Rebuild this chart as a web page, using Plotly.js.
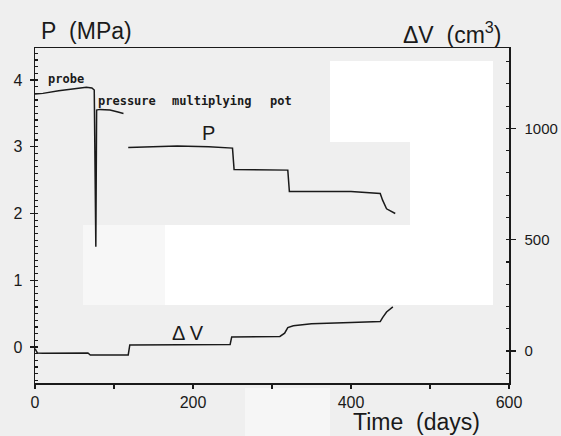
<!DOCTYPE html>
<html>
<head>
<meta charset="utf-8">
<script src="https://cdn.plot.ly/plotly-3.0.1.min.js"></script>
<style>
html,body{margin:0;padding:0;background:#efefef;}
#chart{width:561px;height:436px;}
</style>
</head>
<body>
<div id="chart"></div>
<script>
// Pressure P (MPa), left axis
const pTime = [0, 10, 30, 50, 65, 72, 75, 77, 78, 82, 95, 105, 112, null, 118, 150, 180, 220, 250, 252, 280, 320, 322, 360, 400, 437, 440, 445, 452, 456];
const pValue = [3.79, 3.80, 3.84, 3.87, 3.89, 3.88, 3.85, 1.50, 3.55, 3.56, 3.55, 3.52, 3.50, null, 2.99, 3.00, 3.01, 3.00, 2.98, 2.66, 2.66, 2.65, 2.33, 2.33, 2.33, 2.30, 2.20, 2.07, 2.03, 2.00];

// Volume change ΔV (cm³), right axis
const vTime = [0, 3, 10, 40, 67, 70, 118, 120, 200, 247, 249, 280, 310, 316, 320, 327, 350, 400, 437, 440, 445, 453];
const vValue = [10, -9, -10, -9, -9, -18, -18, 27, 28, 29, 63, 64, 65, 80, 105, 113, 122, 128, 132, 150, 175, 198];

// Tick labels
const xTicks = [0, 200, 400, 600];
const yTicks = [0, 1, 2, 3, 4];
const y2Ticks = [0, 500, 1000];

const ink = '#1a1a1a';
const sans = 'Liberation Sans, Arial, sans-serif';
const mono = 'DejaVu Sans Mono, monospace';

const traces = [
  {x: pTime, y: pValue, type: 'scatter', mode: 'lines', yaxis: 'y',
   line: {color: ink, width: 1.5}, connectgaps: false, hoverinfo: 'skip'},
  {x: vTime, y: vValue, type: 'scatter', mode: 'lines', yaxis: 'y2',
   line: {color: ink, width: 1.5}, hoverinfo: 'skip'}
];

function px2paper(x0, y0, x1, y1, color) {
  return {type: 'rect', xref: 'paper', yref: 'paper', layer: 'below',
    x0: (x0 - 35) / 474, x1: (x1 - 35) / 474,
    y0: (383 - y0) / 335, y1: (383 - y1) / 335,
    fillcolor: color, line: {width: 0}};
}

const layout = {
  width: 561, height: 436,
  margin: {l: 35, r: 52, t: 48, b: 53},
  paper_bgcolor: '#efefef',
  plot_bgcolor: 'rgba(0,0,0,0)',
  showlegend: false,
  font: {family: sans, color: ink},
  xaxis: {
    range: [0, 600], tickvals: xTicks, ticktext: xTicks.map(String),
    showline: true, linecolor: ink, linewidth: 1.5, mirror: true,
    ticks: 'outside', ticklen: 4, tickcolor: ink, tickwidth: 1.2,
    minor: {dtick: 100, ticks: 'outside', ticklen: 4, tickcolor: ink},
    showgrid: false, zeroline: false,
    tickfont: {size: 16, family: sans, color: ink}
  },
  yaxis: {
    range: [-0.54, 4.48], tickvals: yTicks, ticktext: yTicks.map(String),
    showline: true, linecolor: ink, linewidth: 1.5,
    ticks: 'outside', ticklen: 4, tickcolor: ink, tickwidth: 1.2,
    minor: {dtick: 0.1, ticks: 'inside', ticklen: 3, tickcolor: ink},
    showgrid: false, zeroline: false, ticklabelstandoff: 4,
    tickfont: {size: 16, family: sans, color: ink}
  },
  yaxis2: {
    overlaying: 'y', side: 'right',
    range: [-144, 1361], tickvals: y2Ticks, ticktext: y2Ticks.map(String),
    showline: true, linecolor: ink, linewidth: 1.5,
    ticks: 'outside', ticklen: 5, tickcolor: ink, tickwidth: 1.2,
    minor: {dtick: 100, ticks: 'inside', ticklen: 3, tickcolor: ink},
    showgrid: false, zeroline: false, ticklabelstandoff: 6,
    tickfont: {size: 15, family: sans, color: ink}
  },
  shapes: [
    px2paper(330, 61, 493, 142, '#ffffff'),
    px2paper(410, 142, 493, 305, '#ffffff'),
    px2paper(165, 225, 410, 305, '#ffffff'),
    px2paper(83, 225, 165, 305, '#f7f7f7'),
    px2paper(245, 388, 330, 436, '#f6f6f6')
  ],
  annotations: [
    {text: 'P\u00a0\u00a0(MPa)', xref: 'paper', yref: 'paper', x: 0.1076, y: 1.0507,
     xanchor: 'center', yanchor: 'middle', showarrow: false, font: {size: 23, family: sans, color: ink}},
    {text: 'ΔV\u00a0\u00a0(cm<sup>3</sup>)', xref: 'paper', yref: 'paper', x: 0.880, y: 1.045,
     xanchor: 'center', yanchor: 'middle', showarrow: false, font: {size: 23, family: sans, color: ink}},
    {text: 'Time\u00a0\u00a0(days)', xref: 'paper', yref: 'paper', x: 0.804, y: -0.1164,
     xanchor: 'center', yanchor: 'middle', showarrow: false, font: {size: 23, family: sans, color: ink}},
    {text: 'P', xref: 'x', yref: 'y', x: 219, y: 3.21, showarrow: false,
     xanchor: 'center', yanchor: 'middle', font: {size: 20, family: sans, color: ink}},
    {text: 'Δ V', xref: 'x', yref: 'y', x: 194, y: 0.21, showarrow: false,
     xanchor: 'center', yanchor: 'middle', font: {size: 20, family: sans, color: ink}},
    {text: '<b>probe</b>', xref: 'x', yref: 'y', x: 39, y: 4.02, showarrow: false,
     xanchor: 'center', yanchor: 'middle', font: {size: 12, family: mono, color: ink}},
    {text: '<b>pressure</b>', xref: 'x', yref: 'y', x: 116, y: 3.69, showarrow: false,
     xanchor: 'center', yanchor: 'middle', font: {size: 12, family: mono, color: ink}},
    {text: '<b>multiplying</b>', xref: 'x', yref: 'y', x: 224, y: 3.69, showarrow: false,
     xanchor: 'center', yanchor: 'middle', font: {size: 12, family: mono, color: ink}},
    {text: '<b>pot</b>', xref: 'x', yref: 'y', x: 311, y: 3.69, showarrow: false,
     xanchor: 'center', yanchor: 'middle', font: {size: 12, family: mono, color: ink}}
  ]
};

Plotly.newPlot('chart', traces, layout, {staticPlot: true, displayModeBar: false});
</script>
</body>
</html>
